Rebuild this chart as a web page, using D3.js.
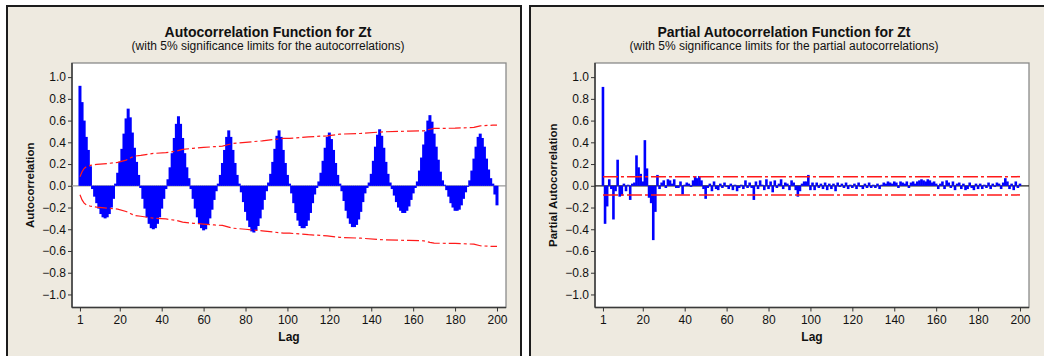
<!DOCTYPE html>
<html>
<head>
<meta charset="utf-8">
<script src="https://cdn.jsdelivr.net/npm/d3@7"></script>
<style>
  body { margin: 0; background: #fff; }
  svg { display: block; }
  text { font-family: "Liberation Sans", Arial, sans-serif; fill: #111; }
</style>
</head>
<body>
<div id="chart"></div>
<script>
// lags 1..200
const lags = d3.range(1, 201);

// autocorrelations, lag 1..200
const acf = [
  0.92, 0.77, 0.60, 0.45, 0.33, 0.18, -0.03, -0.10, -0.16, -0.21,
  -0.26, -0.29, -0.30, -0.29, -0.26, -0.20, -0.12, 0.02, 0.12, 0.22,
  0.34, 0.48, 0.62, 0.71, 0.63, 0.49, 0.35, 0.22, 0.10, -0.02,
  -0.12, -0.21, -0.29, -0.35, -0.39, -0.40, -0.39, -0.35, -0.29, -0.21,
  -0.12, -0.03, 0.06, 0.17, 0.30, 0.44, 0.57, 0.64, 0.57, 0.44,
  0.30, 0.17, 0.07, -0.03, -0.12, -0.21, -0.29, -0.35, -0.39, -0.41,
  -0.40, -0.36, -0.30, -0.22, -0.13, -0.05, 0.02, 0.10, 0.21, 0.33,
  0.45, 0.51, 0.45, 0.33, 0.21, 0.10, 0.02, -0.06, -0.15, -0.24,
  -0.32, -0.38, -0.42, -0.43, -0.41, -0.37, -0.30, -0.22, -0.13, -0.05,
  0.03, 0.11, 0.22, 0.34, 0.46, 0.51, 0.45, 0.33, 0.21, 0.10,
  0.02, -0.07, -0.16, -0.25, -0.32, -0.37, -0.39, -0.39, -0.37, -0.32,
  -0.25, -0.16, -0.08, -0.02, 0.04, 0.12, 0.23, 0.35, 0.45, 0.49,
  0.43, 0.33, 0.21, 0.10, 0.02, -0.05, -0.14, -0.23, -0.30, -0.35,
  -0.38, -0.38, -0.36, -0.31, -0.24, -0.15, -0.07, -0.02, 0.03, 0.11,
  0.23, 0.36, 0.47, 0.52, 0.46, 0.35, 0.22, 0.11, 0.03, -0.03,
  -0.09, -0.15, -0.20, -0.23, -0.25, -0.25, -0.23, -0.19, -0.13, -0.07,
  -0.02, 0.04, 0.14, 0.26, 0.38, 0.50, 0.60, 0.65, 0.59, 0.48,
  0.36, 0.24, 0.13, 0.05, 0.01, -0.04, -0.10, -0.16, -0.20, -0.23,
  -0.23, -0.22, -0.18, -0.12, -0.06, -0.01, 0.05, 0.14, 0.25, 0.36,
  0.45, 0.48, 0.44, 0.36, 0.25, 0.15, 0.07, 0.02, -0.08, -0.18
];

// partial autocorrelations, lag 1..200
const pacf = [
  0.91, -0.35, -0.19, 0.06, -0.03, -0.31, -0.05, 0.24, -0.10, -0.09,
  0.02, -0.05, 0.01, -0.13, 0.02, 0.03, 0.28, 0.17, 0.11, 0.04,
  0.42, 0.16, -0.11, -0.16, -0.50, -0.24, 0.10, -0.03, 0.03, 0.05,
  -0.02, 0.06, 0.05, 0.02, 0.06, -0.02, -0.02, 0.04, -0.08, 0.01,
  0.03, 0.02, -0.01, 0.05, 0.09, 0.07, 0.09, 0.05, -0.03, -0.12,
  -0.02, 0.02, -0.05, 0.04, -0.03, -0.04, 0.02, -0.02, 0.03, -0.01,
  -0.03, 0.02, -0.04, 0.01, -0.05, -0.02, 0.01, -0.03, 0.05, -0.02,
  0.03, -0.02, -0.13, 0.04, -0.03, 0.05, 0.01, -0.04, 0.06, -0.03,
  0.04, -0.06, 0.05, -0.02, 0.02, 0.06, -0.03, 0.03, 0.02, -0.04,
  0.05, 0.03, -0.04, -0.10, -0.05, 0.02, 0.04, 0.04, 0.10, -0.04,
  0.03, -0.04, 0.03, -0.02, 0.02, -0.03, 0.03, -0.04, 0.02, -0.03,
  0.02, -0.05, 0.03, -0.01, 0.02, -0.02, 0.03, -0.03, 0.01, -0.02,
  0.02, -0.03, 0.03, -0.01, -0.03, 0.02, -0.02, 0.03, -0.02, 0.01,
  -0.02, 0.02, -0.03, 0.01, 0.03, 0.02, 0.04, 0.03, 0.02, 0.04,
  0.03, -0.02, 0.04, 0.03, 0.02, 0.04, -0.02, 0.03, 0.04, 0.02,
  0.04, 0.05, 0.06, 0.05, 0.04, 0.06, 0.05, 0.03, 0.04, 0.02,
  -0.03, 0.02, 0.04, -0.03, 0.05, 0.03, -0.02, 0.04, -0.04, 0.02,
  0.03, -0.03, 0.02, -0.04, -0.03, 0.03, -0.02, -0.04, 0.02, -0.03,
  0.02, -0.03, 0.01, -0.02, 0.03, -0.03, 0.02, -0.01, 0.03, 0.02,
  -0.03, 0.03, 0.07, 0.04, -0.03, 0.02, -0.04, 0.04, -0.02, 0.02
];

// 5% limits for the ACF (upper; lower is the mirror)
const acfLimitLags = [1, 2, 3, 4, 6, 9, 14, 19, 23, 25, 27, 30, 36, 42, 47, 50, 55, 60, 65, 69,
  72, 74, 80, 88, 93, 98, 101, 110, 119, 125, 135, 146, 158, 165, 168, 170, 180, 189, 192, 198, 200];
const acfLimitUpper = [0.083, 0.13, 0.16, 0.175, 0.188, 0.197, 0.205, 0.215, 0.236, 0.255,
  0.273, 0.28, 0.298, 0.305, 0.319, 0.335, 0.345, 0.353, 0.36, 0.365,
  0.38, 0.39, 0.40, 0.414, 0.425, 0.436, 0.436, 0.45, 0.46, 0.475,
  0.482, 0.497, 0.503, 0.506, 0.52, 0.528, 0.53, 0.537, 0.552, 0.558, 0.558];
const pacfLimit = 0.084;

const yTicks = [1.0, 0.8, 0.6, 0.4, 0.2, 0.0, -0.2, -0.4, -0.6, -0.8, -1.0];
const xTicks = [1, 20, 40, 60, 80, 100, 120, 140, 160, 180, 200];

const W = 1044, H = 356;
const svg = d3.select('#chart').append('svg')
  .attr('width', W)
  .attr('height', H);

function drawPanel(px, cfg) {
  const g = svg.append('g');

  // panel background + frame
  g.append('rect')
    .attr('x', px).attr('y', 6)
    .attr('width', cfg.panelW).attr('height', 380)
    .attr('fill', '#eeeae0')
    .attr('stroke', '#1c1c1c')
    .attr('stroke-width', 2);

  const left = px + 65, right = px + 499, top = 63, bottom = 307.5;
  const x = d3.scaleLinear().domain([-2.8, 204.3]).range([left, right]);
  const y = d3.scaleLinear().domain([-1.12, 1.13]).range([bottom, top]);

  g.append('rect')
    .attr('x', left).attr('y', top)
    .attr('width', right - left).attr('height', bottom - top)
    .attr('fill', '#fff')
    .attr('stroke', '#8a8a8a')
    .attr('stroke-width', 1.3);

  // titles
  g.append('text')
    .attr('x', cfg.titleX).attr('y', 36.5)
    .attr('text-anchor', 'middle')
    .style('font-size', '14px').style('font-weight', 'bold')
    .text(cfg.title);
  g.append('text')
    .attr('x', cfg.titleX).attr('y', 50)
    .attr('text-anchor', 'middle')
    .style('font-size', '12px')
    .text(cfg.subtitle);

  // axes
  const yAxis = d3.axisLeft(y).tickValues(yTicks).tickSize(4).tickPadding(2)
    .tickFormat(d3.format('.1f'));
  const xAxis = d3.axisBottom(x).tickValues(xTicks).tickSize(4).tickPadding(4);

  const ya = g.append('g').attr('transform', `translate(${left},0)`).call(yAxis);
  ya.select('.domain').attr('d', `M0,${top}V${bottom}`).attr('stroke', '#3a3a3a').attr('stroke-width', 1.5);
  const xa = g.append('g').attr('transform', `translate(0,${bottom})`).call(xAxis);
  xa.select('.domain').attr('d', `M${left},0H${right}`).attr('stroke', '#3a3a3a').attr('stroke-width', 1.5);
  g.selectAll('.tick line').attr('stroke', '#333');
  g.selectAll('.tick text').style('font-size', '12px').attr('fill', '#111')
    .style('font-family', '"Liberation Sans", Arial, sans-serif');

  g.append('text')
    .attr('transform', `translate(${px + 27},${(top + bottom) / 2}) rotate(-90)`)
    .attr('text-anchor', 'middle')
    .style('font-size', '11.5px').style('font-weight', 'bold')
    .text(cfg.ylabel);
  g.append('text')
    .attr('x', (left + right) / 2).attr('y', 341)
    .attr('text-anchor', 'middle')
    .style('font-size', '12px').style('font-weight', 'bold')
    .text('Lag');

  // zero reference
  g.append('line')
    .attr('x1', left).attr('x2', right)
    .attr('y1', y(0)).attr('y2', y(0))
    .attr('stroke', cfg.zeroColor).attr('stroke-width', 1.3);

  // bars
  const bw = cfg.barW;
  g.append('g').selectAll('rect')
    .data(lags)
    .join('rect')
    .attr('x', d => x(d) - bw / 2)
    .attr('width', bw)
    .attr('y', (d, i) => y(Math.max(0, cfg.values[i])))
    .attr('height', (d, i) => Math.abs(y(cfg.values[i]) - y(0)))
    .attr('fill', '#0000ff');

  return { g, x, y };
}

// left: ACF
const p1 = drawPanel(7, {
  panelW: 514,
  titleX: 268,
  title: 'Autocorrelation Function for Zt',
  subtitle: '(with 5% significance limits for the autocorrelations)',
  ylabel: 'Autocorrelation',
  values: acf,
  barW: 3.0,
  zeroColor: '#999'
});
const acfLine = d3.line()
  .x((d, i) => p1.x(acfLimitLags[i]))
  .y(d => p1.y(d));
[1, -1].forEach(sgn => {
  p1.g.append('path')
    .datum(acfLimitUpper.map(v => sgn * v))
    .attr('d', acfLine)
    .attr('fill', 'none')
    .attr('stroke', '#ff1a1a')
    .attr('stroke-width', 1.2)
    .attr('stroke-dasharray', '12,3,3,3');
});

// right: PACF
const p2 = drawPanel(530, {
  panelW: 530,
  titleX: 784,
  title: 'Partial Autocorrelation Function for Zt',
  subtitle: '(with 5% significance limits for the partial autocorrelations)',
  ylabel: 'Partial Autocorrelation',
  values: pacf,
  barW: 2.6,
  zeroColor: '#222'
});
[pacfLimit, -pacfLimit].forEach(v => {
  p2.g.append('line')
    .attr('x1', p2.x(1)).attr('x2', p2.x(200))
    .attr('y1', p2.y(v)).attr('y2', p2.y(v))
    .attr('stroke', '#ff1a1a')
    .attr('stroke-width', 1.5)
    .attr('stroke-dasharray', '15,3,3,3');
});
</script>
</body>
</html>
